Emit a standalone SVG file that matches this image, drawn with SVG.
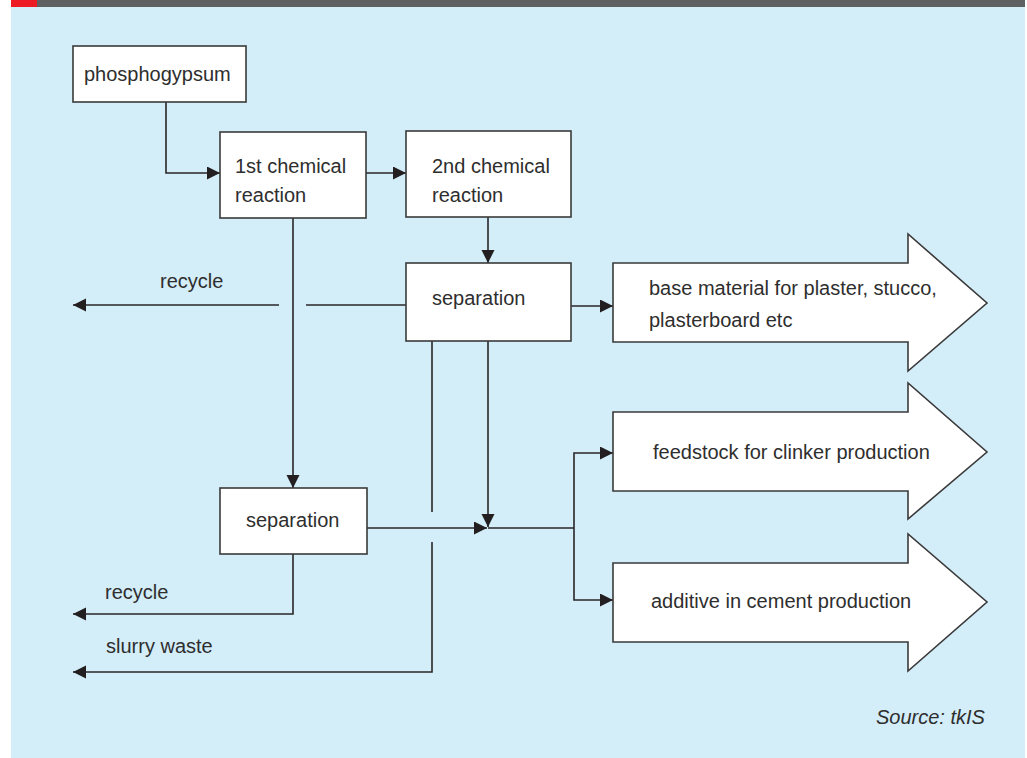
<svg xmlns="http://www.w3.org/2000/svg" width="1027" height="758" viewBox="0 0 1027 758">
  <defs>
    <style>
      .box { fill: #ffffff; stroke: #3a3a3a; stroke-width: 1.6; }
      .big { fill: #ffffff; stroke: #3a3a3a; stroke-width: 1.6; stroke-linejoin: miter; }
      .ln { fill: none; stroke: #2a2627; stroke-width: 1.6; }
      .t { font-family: "Liberation Sans", Arial, sans-serif; font-size: 20px; fill: #2e2e2e; }
      .src { font-family: "Liberation Sans", Arial, sans-serif; font-size: 20px; font-style: italic; fill: #2e2e2e; }
    </style>
    <marker id="ah" markerUnits="userSpaceOnUse" markerWidth="14" markerHeight="14" refX="13" refY="6.5" orient="auto">
      <path d="M0,0 L13,6.5 L0,13 z" fill="#231f20"/>
    </marker>
  </defs>

  <rect x="0" y="0" width="1027" height="758" fill="#ffffff"/>
  <rect x="11" y="7" width="1014" height="751" fill="#d3edf9"/>
  <rect x="11" y="0" width="1014" height="7" fill="#5f6062"/>
  <rect x="11" y="0" width="26" height="7" fill="#ed1c24"/>

  <g id="connectors">
    <path class="ln" d="M166,102 V173 H220" marker-end="url(#ah)"/>
    <path class="ln" d="M366,173 H406" marker-end="url(#ah)"/>
    <path class="ln" d="M488,217 V263" marker-end="url(#ah)"/>
    <path class="ln" d="M406,305 H306"/>
    <path class="ln" d="M279,305 H73" marker-end="url(#ah)"/>
    <path class="ln" d="M571,306 H613" marker-end="url(#ah)"/>
    <path class="ln" d="M293,218 V488" marker-end="url(#ah)"/>
    <path class="ln" d="M367,528 H487" marker-end="url(#ah)"/>
    <path class="ln" d="M488,341 V527" marker-end="url(#ah)"/>
    <path class="ln" d="M488,528 H574"/>
    <path class="ln" d="M574,528 V453 H613" marker-end="url(#ah)"/>
    <path class="ln" d="M574,528 V600 H613" marker-end="url(#ah)"/>
    <path class="ln" d="M432,341 V512"/>
    <path class="ln" d="M432,542 V672 H73" marker-end="url(#ah)"/>
    <path class="ln" d="M293,554 V614 H73" marker-end="url(#ah)"/>
  </g>

  <g id="phosphogypsum">
    <rect class="box" x="73" y="46" width="173" height="56"/>
    <text class="t" x="84" y="81">phosphogypsum</text>
  </g>
  <g id="reaction1">
    <rect class="box" x="220" y="132" width="146" height="86"/>
    <text class="t" x="235" y="173">1st chemical</text>
    <text class="t" x="235" y="202">reaction</text>
  </g>
  <g id="reaction2">
    <rect class="box" x="406" y="131" width="165" height="86"/>
    <text class="t" x="432" y="173">2nd chemical</text>
    <text class="t" x="432" y="202">reaction</text>
  </g>
  <g id="separation1">
    <rect class="box" x="406" y="263" width="165" height="78"/>
    <text class="t" x="432" y="305">separation</text>
  </g>
  <g id="separation2">
    <rect class="box" x="220" y="488" width="147" height="66"/>
    <text class="t" x="246" y="527">separation</text>
  </g>
  <g id="out-base">
    <path class="big" d="M613,263 H908 V234 L987,303 L908,371 V342 H613 Z"/>
    <text class="t" x="649" y="295">base material for plaster, stucco,</text>
    <text class="t" x="649" y="327">plasterboard etc</text>
  </g>
  <g id="out-feedstock">
    <path class="big" d="M613,412 H908 V383 L987,452 L908,519 V491 H613 Z"/>
    <text class="t" x="653" y="459">feedstock for clinker production</text>
  </g>
  <g id="out-additive">
    <path class="big" d="M613,563 H908 V534 L987,602 L908,671 V642 H613 Z"/>
    <text class="t" x="651" y="608">additive in cement production</text>
  </g>

  <g id="labels">
    <text class="t" x="160" y="288">recycle</text>
    <text class="t" x="105" y="599">recycle</text>
    <text class="t" x="106" y="653">slurry waste</text>
    <text class="src" x="876" y="724">Source: tkIS</text>
  </g>
</svg>
